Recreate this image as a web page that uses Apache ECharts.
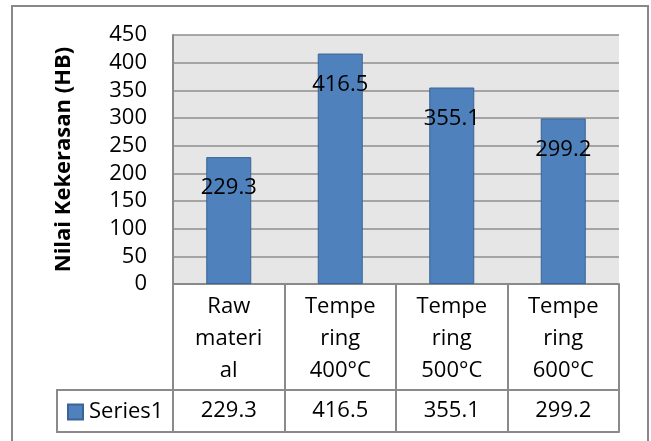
<!DOCTYPE html>
<html>
<head>
<meta charset="utf-8">
<script src="https://cdn.jsdelivr.net/npm/echarts@6/dist/echarts.min.js"></script>
<style>
html,body{margin:0;padding:0;background:#fff;}
#c{width:651px;height:441px;}
</style>
</head>
<body>
<div id="c"></div>
<script>
var categories = ['Raw\nmateri\nal', 'Tempe\nring\n400°C', 'Tempe\nring\n500°C', 'Tempe\nring\n600°C'];
var seriesName = 'Series1';
var values = [229.3, 416.5, 355.1, 299.2];
var yTicks = { min: 0, max: 450, interval: 50 };
var yTitle = 'Nilai Kekerasan (HB)';

var FONT = '"Open Sans", "Noto Sans", sans-serif';
var LINE = '#8a8a8a';
var chart = echarts.init(document.getElementById('c'), null, { renderer: 'canvas' });

chart.setOption({
  animation: false,
  backgroundColor: '#fff',
  textStyle: { fontFamily: FONT },
  grid: { left: 173, top: 35, width: 446, height: 249, show: true, backgroundColor: '#e6e6e6', borderWidth: 0 },
  legend: {
    data: [seriesName],
    left: 62, top: 396,
    icon: 'rect', itemWidth: 15, itemHeight: 15, itemGap: 6,
    textStyle: { fontFamily: FONT, fontSize: 22, color: '#000', padding: [0, 0, 0, 1] },
    selectedMode: false
  },
  xAxis: [
    {
      type: 'category', data: categories, position: 'bottom',
      axisLine: { show: true, lineStyle: { color: LINE, width: 2 } },
      axisTick: { show: true, alignWithLabel: false, length: 148, lineStyle: { color: LINE, width: 2 } },
      axisLabel: { color: '#000', fontSize: 22, lineHeight: 32, margin: 7, fontFamily: FONT, interval: 0 },
      splitLine: { show: false }
    },
    {
      type: 'category', data: categories, position: 'bottom', offset: 106,
      axisLine: { show: true, lineStyle: { color: LINE, width: 2 } },
      axisTick: { show: false },
      axisLabel: { color: '#000', fontSize: 22, margin: 10, fontFamily: FONT, interval: 0,
        formatter: function (v, i) { return String(values[i]); } },
      splitLine: { show: false }
    },
    {
      type: 'category', data: categories, position: 'bottom', offset: 148,
      axisLine: { show: true, lineStyle: { color: LINE, width: 2 } },
      axisTick: { show: false },
      axisLabel: { show: false },
      splitLine: { show: false }
    }
  ],
  yAxis: {
    type: 'value', min: yTicks.min, max: yTicks.max, interval: yTicks.interval,
    name: yTitle, nameLocation: 'middle', nameRotate: 90, nameGap: 98,
    nameTextStyle: { fontFamily: FONT, fontSize: 22, fontWeight: 'bold', color: '#000' },
    axisLine: { show: true, lineStyle: { color: LINE, width: 2 } },
    axisTick: { show: false },
    axisLabel: { color: '#000', fontSize: 22, margin: 26, fontFamily: FONT },
    splitLine: { show: true, lineStyle: { color: '#8e8e8e', width: 1.5 } }
  },
  series: [{
    name: seriesName, type: 'bar', data: values, barWidth: 45, xAxisIndex: 0,
    itemStyle: { color: '#4f81bd', borderColor: '#3a6496', borderWidth: 1 },
    label: { show: true, position: 'insideTop', distance: 20, color: '#000', fontSize: 22, fontFamily: FONT }
  }],
  graphic: [
    { type: 'rect', shape: { x: 12, y: 6, width: 636, height: 460 }, style: { fill: 'none', stroke: '#888', lineWidth: 2 }, silent: true },
    { type: 'rect', shape: { x: 57, y: 390, width: 116, height: 42 }, style: { fill: 'none', stroke: LINE, lineWidth: 2 }, silent: true, z: 1 }
  ]
});
</script>
</body>
</html>
